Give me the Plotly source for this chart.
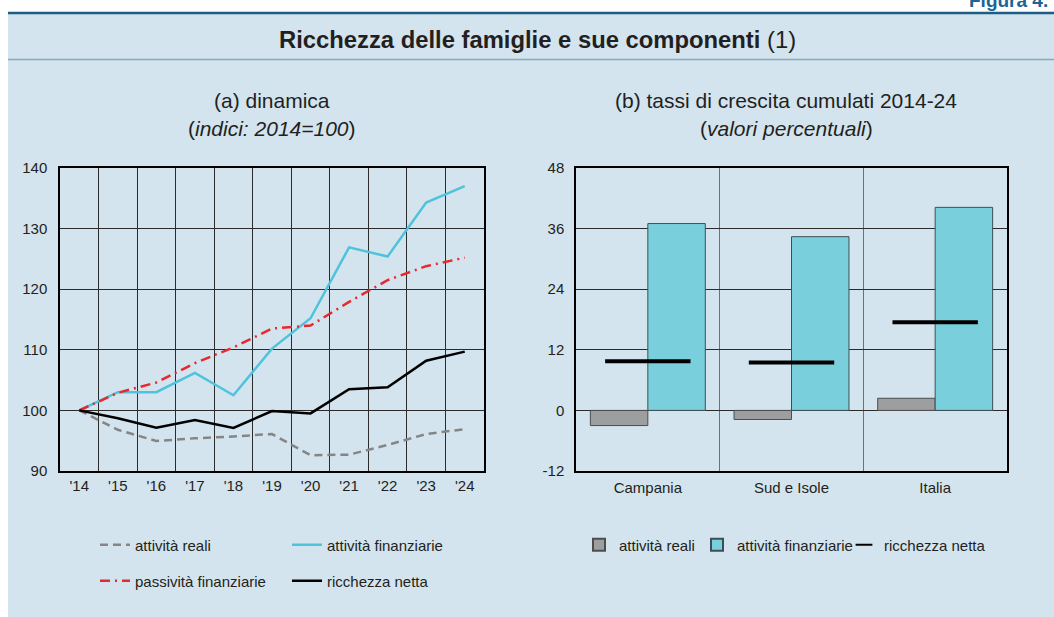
import plotly.graph_objects as go

# ---------------- data ----------------
years = ["'14", "'15", "'16", "'17", "'18", "'19", "'20", "'21", "'22", "'23", "'24"]
attivita_reali = [100, 96.8, 94.95, 95.4, 95.7, 96.1, 92.6, 92.7, 94.3, 96.1, 96.9]
attivita_finanziarie = [100, 103.0, 103.0, 106.2, 102.5, 110.2, 115.2, 126.9, 125.4, 134.3, 137.0]
passivita_finanziarie = [100, 102.9, 104.6, 107.8, 110.4, 113.5, 114.0, 117.9, 121.5, 123.8, 125.2]
ricchezza_netta = [100, 98.7, 97.15, 98.4, 97.1, 99.9, 99.5, 103.5, 103.8, 108.2, 109.7]

regions = ["Campania", "Sud e Isole", "Italia"]
crescita_reali = [-3.0, -1.8, 2.4]
crescita_finanziarie = [37.0, 34.4, 40.2]
crescita_netta = [9.75, 9.5, 17.45]

left_ticks = [90, 100, 110, 120, 130, 140]
right_ticks = [-12, 0, 12, 24, 36, 48]
right_ticktext = ["-12", "0", "12", "24", "36", "48"]

# ---------------- layout constants ----------------
W, H = 1054, 617
FONT = "Liberation Sans, Arial, sans-serif"
TXT = "#231f20"
PANEL = "#d3e4ee"


def px(x):
    return x / W


def py(y):
    return 1 - y / H


fig = go.Figure()

# ---- left panel lines ----
fig.add_trace(go.Scatter(x=years, y=attivita_reali, name="attività reali", mode="lines",
                         line=dict(color="#858585", width=2.5, dash="8px,5px"),
                         xaxis="x", yaxis="y", legend="legend", showlegend=True))
fig.add_trace(go.Scatter(x=years, y=attivita_finanziarie, name="attività finanziarie", mode="lines",
                         line=dict(color="#4fc3dc", width=2.5),
                         xaxis="x", yaxis="y", legend="legend"))
fig.add_trace(go.Scatter(x=years, y=passivita_finanziarie, name="passività finanziarie", mode="lines",
                         line=dict(color="#e8282c", width=2.5, dash="10px,5px,2px,5px"),
                         xaxis="x", yaxis="y", legend="legend3"))
fig.add_trace(go.Scatter(x=years, y=ricchezza_netta, name="ricchezza netta", mode="lines",
                         line=dict(color="#000000", width=2.5),
                         xaxis="x", yaxis="y", legend="legend3"))

# ---- right panel bars ----
fig.add_trace(go.Bar(x=regions, y=crescita_reali, name="attività reali",
                     marker=dict(color="#9c9e9f", line=dict(color="#4d4d4d", width=1)),
                     xaxis="x2", yaxis="y2", legend="legend2", legendwidth=73))
fig.add_trace(go.Bar(x=regions, y=crescita_finanziarie, name="attività finanziarie",
                     marker=dict(color="#7acfdc", line=dict(color="#3d4f52", width=1)),
                     xaxis="x2", yaxis="y2", legend="legend2", legendwidth=102))
fig.add_trace(go.Scatter(x=regions, y=crescita_netta, name="ricchezza netta", mode="markers",
                         marker=dict(symbol="line-ew", size=61, color="#000000",
                                     line=dict(color="#000000", width=4)),
                         xaxis="x2", yaxis="y2", legend="legend2"))

grid_col = "#2b2b2b"
tickfont = dict(family=FONT, size=15, color=TXT)
ydom = [py(471), py(168)]

fig.update_layout(
    width=W, height=H,
    margin=dict(l=0, r=0, t=0, b=0, pad=0, autoexpand=False),
    paper_bgcolor="white",
    plot_bgcolor="white",
    font=dict(family=FONT, size=15, color=TXT),
    barmode="group", bargap=0.2, bargroupgap=0,
    xaxis=dict(domain=[px(60), px(484)], anchor="y", type="category", range=[-0.5, 10.5],
               tickson="boundaries", ticks="", showgrid=True, gridcolor=grid_col, gridwidth=1,
               showline=True, mirror=True, linecolor="black", linewidth=1.5,
               tickfont=tickfont, ticklabelstandoff=0, fixedrange=True),
    yaxis=dict(domain=ydom, anchor="x", range=[90, 140], tickvals=left_ticks, ticks="",
               showgrid=True, gridcolor=grid_col, gridwidth=1, zeroline=False,
               showline=True, mirror=True, linecolor="black", linewidth=1.5,
               tickfont=tickfont, ticklabelstandoff=8),
    yaxis3=dict(overlaying="y", anchor="x", side="right", range=[90, 140], tickvals=left_ticks,
                ticks="", showgrid=False, zeroline=False, showline=False,
                tickfont=tickfont, ticklabelstandoff=10),
    xaxis2=dict(domain=[px(576), px(1007)], anchor="y2", type="category", range=[-0.5, 2.5],
                tickson="boundaries", ticks="", showgrid=True, gridcolor="#6f6f6f", gridwidth=1,
                showline=True, mirror=True, linecolor="black", linewidth=1.5,
                tickfont=tickfont, ticklabelstandoff=2),
    yaxis2=dict(domain=ydom, anchor="x2", range=[-12, 48], tickvals=right_ticks,
                ticktext=right_ticktext, ticks="",
                showgrid=True, gridcolor=grid_col, gridwidth=1, zeroline=False,
                showline=True, mirror=True, linecolor="black", linewidth=1.5,
                tickfont=tickfont, ticklabelstandoff=7),
    yaxis4=dict(overlaying="y2", anchor="x2", side="right", range=[-12, 48], tickvals=right_ticks,
                ticktext=right_ticktext,
                ticks="", showgrid=False, zeroline=False, showline=False,
                tickfont=tickfont, ticklabelstandoff=12),
    legend=dict(orientation="h", x=px(95), xanchor="left", y=py(545), yanchor="middle",
                bgcolor="rgba(0,0,0,0)", entrywidth=147, entrywidthmode="pixels",
                font=dict(family=FONT, size=15, color=TXT), traceorder="normal"),
    legend3=dict(orientation="h", x=px(95), xanchor="left", y=py(581), yanchor="middle",
                 bgcolor="rgba(0,0,0,0)", entrywidth=147, entrywidthmode="pixels",
                 font=dict(family=FONT, size=15, color=TXT), traceorder="normal"),
    legend2=dict(orientation="h", x=px(579), xanchor="left", y=py(545), yanchor="middle",
                 bgcolor="rgba(0,0,0,0)", itemsizing="constant",
                 font=dict(family=FONT, size=15, color=TXT), traceorder="normal"),
    shapes=[
        dict(type="rect", xref="paper", yref="paper", x0=px(8), x1=1.0, y0=0, y1=py(13),
             fillcolor=PANEL, line=dict(width=0), layer="below"),
        dict(type="line", xref="paper", yref="paper", x0=px(8), x1=1.0, y0=py(13), y1=py(13),
             line=dict(color="#1d5c85", width=2.5), layer="below"),
        dict(type="line", xref="paper", yref="paper", x0=px(8), x1=1.0, y0=py(59.5), y1=py(59.5),
             line=dict(color="#86a9bf", width=1.5), layer="below"),
    ],
    annotations=[
        dict(text="<b>Figura 4.</b>", xref="paper", yref="paper", x=px(1050), y=py(13),
             xanchor="right", yanchor="bottom", showarrow=False,
             font=dict(family=FONT, size=19, color="#1a6496")),
        dict(text="<b>Ricchezza delle famiglie e sue componenti</b> (1)", xref="paper", yref="paper",
             x=px(538), y=py(40), xanchor="center", yanchor="middle", showarrow=False,
             font=dict(family=FONT, size=23.8, color=TXT)),
        dict(text="(a) dinamica", xref="paper", yref="paper", x=px(272), y=py(100),
             xanchor="center", yanchor="middle", showarrow=False,
             font=dict(family=FONT, size=21, color=TXT)),
        dict(text="(<i>indici: 2014=100</i>)", xref="paper", yref="paper", x=px(272), y=py(128),
             xanchor="center", yanchor="middle", showarrow=False,
             font=dict(family=FONT, size=21, color=TXT)),
        dict(text="(b) tassi di crescita cumulati 2014-24", xref="paper", yref="paper", x=px(786),
             y=py(100), xanchor="center", yanchor="middle", showarrow=False,
             font=dict(family=FONT, size=21, color=TXT)),
        dict(text="(<i>valori percentuali</i>)", xref="paper", yref="paper", x=px(786), y=py(128),
             xanchor="center", yanchor="middle", showarrow=False,
             font=dict(family=FONT, size=21, color=TXT)),
    ],
)

fig.write_html(
    "out.html",
    config={"displayModeBar": False},
    post_script=(
        "var d=document.getElementById('{plot_id}');"
        "d.style.position='fixed';d.style.top='0px';d.style.left='0px';"
        "document.body.style.margin='0';document.body.style.padding='0';"
        "document.documentElement.style.overflow='hidden';"
    ),
)
